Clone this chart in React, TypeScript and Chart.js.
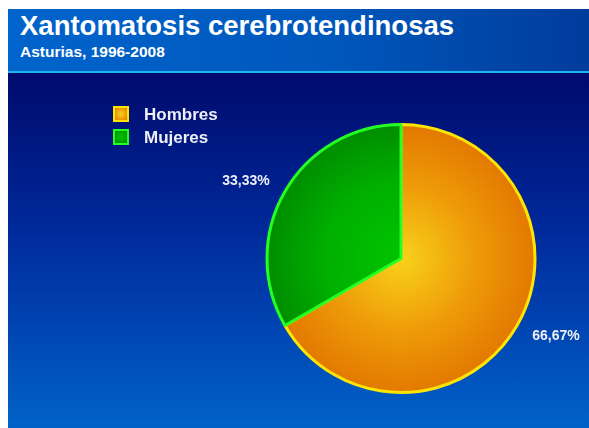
import React, { useEffect, useRef } from "react";
import { Chart, registerables } from "chart.js";

Chart.register(...registerables);

const title = "Xantomatosis cerebrotendinosas";
const subtitle = "Asturias, 1996-2008";
const categories = ["Hombres", "Mujeres"];
const values = [66.67, 33.33];
const fillInner = ["#f8d21a", "#00c400"];
const fillMid = ["#ee9a08", "#00b000"];
const fillOuter = ["#e27800", "#008c00"];
const borderColors = ["#ffe400", "#22ff22"];

const FONT = '"Liberation Sans", Arial, sans-serif';

function fmt(v: number) {
  return v.toFixed(2).replace(".", ",") + "%";
}

const overlayPlugin = {
  id: "overlay",
  afterDraw(chart: any) {
    const ctx = chart.ctx as CanvasRenderingContext2D;
    const meta = chart.getDatasetMeta(0);
    ctx.save();
    // legend
    const lx = 105;
    const ly = 33;
    categories.forEach((c, i) => {
      const y = ly + i * 23;
      const g = ctx.createRadialGradient(lx + 8, y + 8, 0, lx + 8, y + 8, 9);
      g.addColorStop(0, fillInner[i]);
      g.addColorStop(1, fillOuter[i]);
      ctx.fillStyle = g;
      ctx.fillRect(lx, y, 16, 16);
      ctx.strokeStyle = borderColors[i];
      ctx.lineWidth = 2;
      ctx.strokeRect(lx + 1, y + 1, 14, 14);
      ctx.fillStyle = "#eeeef6";
      ctx.font = `bold 17px ${FONT}`;
      ctx.textBaseline = "middle";
      ctx.textAlign = "left";
      ctx.fillText(c, lx + 31, y + 9);
    });
    // percentage labels
    ctx.font = `bold 14px ${FONT}`;
    ctx.textAlign = "center";
    ctx.textBaseline = "middle";
    ctx.fillStyle = "#eeeef6";
    meta.data.forEach((arc: any, i: number) => {
      const p = arc.getProps(["x", "y", "startAngle", "endAngle", "outerRadius"], true);
      const a = (p.startAngle + p.endAngle) / 2;
      const x = p.x + Math.cos(a) * (p.outerRadius + 45);
      const y = p.y + Math.sin(a) * (p.outerRadius + 21);
      ctx.fillText(fmt(values[i]), x, y);
    });
    ctx.restore();
  },
};

function sliceFill(context: any) {
  const i = context.dataIndex ?? 0;
  const chart = context.chart;
  const area = chart.chartArea;
  if (!area) return fillOuter[i];
  const cx = (area.left + area.right) / 2;
  const cy = (area.top + area.bottom) / 2;
  const g = chart.ctx.createRadialGradient(cx, cy, 0, cx, cy, 136);
  g.addColorStop(0, fillInner[i]);
  g.addColorStop(0.55, fillMid[i]);
  g.addColorStop(1, fillOuter[i]);
  return g;
}

export default function App() {
  const ref = useRef<HTMLCanvasElement>(null);
  useEffect(() => {
    if (!ref.current) return;
    const chart = new Chart(ref.current, {
      type: "pie",
      data: {
        labels: categories,
        datasets: [
          {
            data: values,
            backgroundColor: sliceFill as any,
            borderColor: borderColors,
            borderWidth: 3,
          },
        ],
      },
      options: {
        animation: false,
        responsive: false,
        radius: 134,
        layout: { padding: { left: 257, right: 52, top: 49.5, bottom: 33.5 } },
        plugins: {
          legend: { display: false },
          tooltip: { enabled: false },
        },
      } as any,
      plugins: [overlayPlugin],
    });
    return () => chart.destroy();
  }, []);

  return (
    <div
      style={{
        position: "fixed",
        left: 8,
        top: 9,
        width: 581,
        height: 419,
        overflow: "hidden",
        fontFamily: FONT,
      }}
    >
      <div
        style={{
          position: "absolute",
          left: 0,
          top: 0,
          width: 581,
          height: 62,
          background: "linear-gradient(90deg, #0064cc 0%, #0058bc 55%, #003c9c 100%)",
        }}
      >
        <div
          style={{
            position: "absolute",
            left: 12,
            top: 1,
            color: "#ffffff",
            fontWeight: "bold",
            fontSize: 27.5,
            lineHeight: "32px",
            whiteSpace: "nowrap",
          }}
        >
          {title}
        </div>
        <div
          style={{
            position: "absolute",
            left: 12,
            top: 34,
            color: "#ffffff",
            fontWeight: "bold",
            fontSize: 15.5,
            lineHeight: "18px",
            whiteSpace: "nowrap",
          }}
        >
          {subtitle}
        </div>
      </div>
      <div
        style={{
          position: "absolute",
          left: 0,
          top: 62,
          width: 581,
          height: 2,
          background: "#1ab4f0",
        }}
      />
      <div
        style={{
          position: "absolute",
          left: 0,
          top: 64,
          width: 581,
          height: 355,
          background: "linear-gradient(180deg, #000a6c 0%, #002a9c 45%, #0062c8 100%)",
        }}
      >
        <canvas ref={ref} width={581} height={355} style={{ display: "block" }} />
      </div>
    </div>
  );
}
